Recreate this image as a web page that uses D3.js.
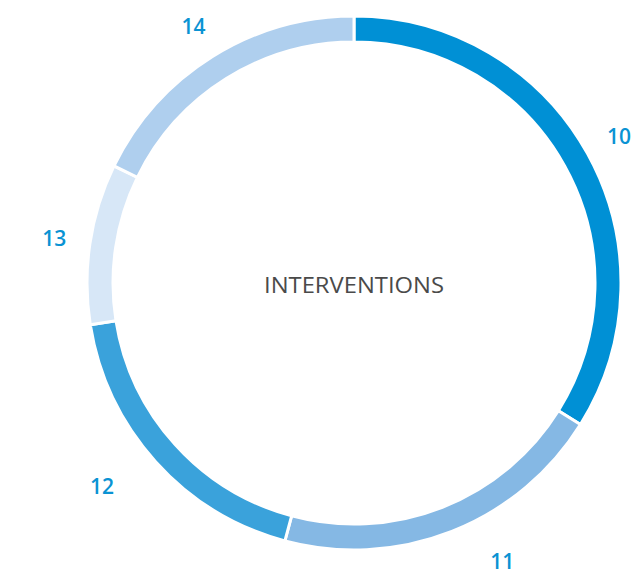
<!DOCTYPE html>
<html>
<head>
<meta charset="utf-8">
<script src="https://cdn.jsdelivr.net/npm/d3@7"></script>
<style>
  html, body { margin: 0; padding: 0; background: #fff; }
  svg { display: block; }
</style>
</head>
<body>
<svg id="chart" width="634" height="576"></svg>
<script>
const categories = ["10", "11", "12", "13", "14"];
const values = [122, 73, 66, 35, 64];
const colors = ["#0090d5", "#85b8e4", "#3aa2db", "#d7e7f7", "#afcfee"];
const centerLabel = "INTERVENTIONS";

const data = categories.map((c, i) => ({ cat: c, value: values[i] }));

const width = 634, height = 576;
const cx = 354, cy = 283;
const outerR = 267, innerR = 241, labelR = 303;

const svg = d3.select("#chart");
const g = svg.append("g").attr("transform", `translate(${cx},${cy})`);

const color = d3.scaleOrdinal().domain(categories).range(colors);

const pie = d3.pie().value(d => d.value).sort(null);
const arcs = pie(data);

const arc = d3.arc().innerRadius(innerR).outerRadius(outerR);
const labelArc = d3.arc().innerRadius(labelR).outerRadius(labelR);

g.selectAll("path.slice")
  .data(arcs)
  .join("path")
  .attr("class", "slice")
  .attr("d", arc)
  .attr("fill", d => color(d.data.cat))
  .attr("stroke", "#fff")
  .attr("stroke-width", 3);

g.selectAll("text.lbl")
  .data(arcs)
  .join("text")
  .attr("class", "lbl")
  .attr("transform", d => {
    let [x, y] = labelArc.centroid(d);
    // spread lower labels outward horizontally
    if (y > 0) x += Math.sign(x) * 40 * (y / labelR);
    const w = 12;
    const px = Math.max(-cx + w + 2, Math.min(width - cx - w - 2, x));
    const py = Math.max(-cy + 14, Math.min(height - cy - 15, y));
    return `translate(${px},${py})`;
  })
  .attr("text-anchor", "middle")
  .attr("dominant-baseline", "central")
  .attr("font-family", "'Open Sans', sans-serif")
  .attr("font-size", 21)
  .attr("font-weight", 600)
  .attr("fill", "#0a93d3")
  .text(d => d.data.cat);

g.append("text")
  .attr("x", 0)
  .attr("y", 2)
  .attr("text-anchor", "middle")
  .attr("dominant-baseline", "central")
  .attr("font-family", "'Open Sans', sans-serif")
  .attr("font-size", 21)
  .attr("font-weight", 400)
  .attr("fill", "#4a4a4a")
  .attr("textLength", 180)
  .attr("lengthAdjust", "spacingAndGlyphs")
  .text(centerLabel);
</script>
</body>
</html>
